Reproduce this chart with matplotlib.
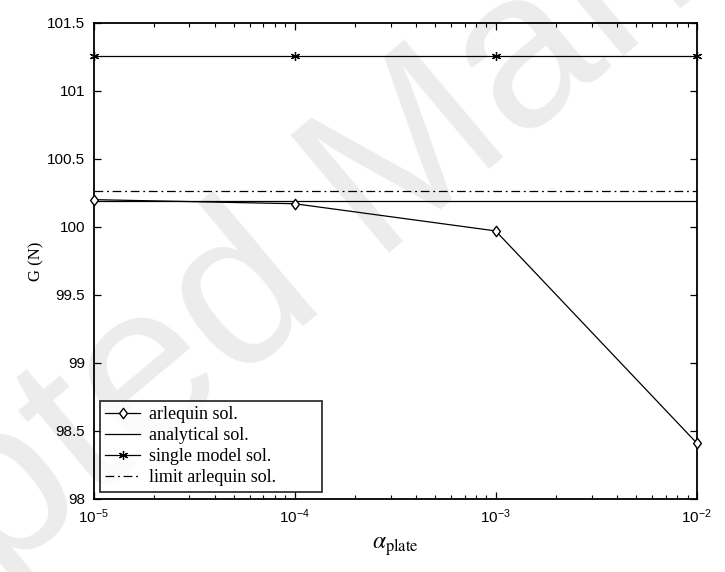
import numpy as np
import matplotlib
matplotlib.use("Agg")
import matplotlib.pyplot as plt
from matplotlib.path import Path
from matplotlib.ticker import LogLocator, FixedLocator, FuncFormatter, NullFormatter

plt.rcParams['mathtext.fontset'] = 'custom'
plt.rcParams['mathtext.rm'] = 'Liberation Sans'
plt.rcParams['mathtext.it'] = 'Liberation Sans:italic'

alpha_plate = [1e-5, 1e-4, 1e-3, 1e-2]
arlequin = [100.20, 100.17, 99.97, 98.41]
analytical = [100.19, 100.19, 100.19, 100.19]
single_model = [101.26, 101.26, 101.26, 101.26]
limit_arlequin = [100.26, 100.26, 100.26, 100.26]
yticks = [98, 98.5, 99, 99.5, 100, 100.5, 101, 101.5]

# matlab-like diamond (a bit taller than wide)
diamond = Path([(0, -1), (0.75, 0), (0, 1), (-0.75, 0), (0, -1)],
               [Path.MOVETO, Path.LINETO, Path.LINETO, Path.LINETO, Path.CLOSEPOLY])

fig = plt.figure(figsize=(7.25, 5.72), dpi=100)
# faint watermark, drawn behind the axes
fig.text(0.52, 0.67, "Accepted Manuscript", fontsize=160, color="#ececec",
         rotation=40, ha="center", va="center", family="Liberation Sans",
         zorder=-1)

ax = fig.add_axes([0.129, 0.128, 0.832, 0.832])
ax.patch.set_alpha(0)

ax.plot(alpha_plate, arlequin, color="black", lw=0.9, marker=diamond, ms=7.5,
        mfc="white", mec="black", mew=1.0, label="arlequin sol.", zorder=5,
        clip_on=False)
ax.plot(alpha_plate, analytical, color="black", lw=0.9, label="analytical sol.")
ax.plot(alpha_plate, single_model, color="black", lw=0.9, marker=(6, 2, 0), ms=6.5,
        mew=0.9, label="single model sol.", clip_on=False)
ax.plot(alpha_plate, limit_arlequin, color="black", lw=0.9, ls=(0, (7, 3, 1.5, 3)),
        label="limit arlequin sol.")

ax.set_xscale("log")
ax.set_xlim(1e-5, 1e-2)
ax.set_ylim(98, 101.5)
ax.yaxis.set_major_locator(FixedLocator(yticks))
ax.yaxis.set_major_formatter(FuncFormatter(lambda v, p: f"{v:g}"))
ax.xaxis.set_major_locator(LogLocator(base=10, numticks=10))
ax.xaxis.set_minor_locator(LogLocator(base=10, subs=np.arange(2, 10), numticks=20))
ax.xaxis.set_minor_formatter(NullFormatter())
ax.xaxis.set_major_formatter(FuncFormatter(lambda v, p: r"$\mathregular{10^{%d}}$" % round(np.log10(v))))

ax.tick_params(which="both", direction="in", top=True, right=True)
ax.tick_params(which="major", length=5, width=0.9, labelsize=11, pad=6)
ax.tick_params(which="minor", length=3, width=0.8)
for lab in ax.get_xticklabels() + ax.get_yticklabels():
    lab.set_family("Liberation Sans")
for s in ax.spines.values():
    s.set_linewidth(1.3)

ax.set_ylabel("G (N)", family="Liberation Serif", fontsize=12, labelpad=2)
ax.set_xlabel(r"$\alpha_{\rm plate}$", math_fontfamily="stix", fontsize=17, labelpad=6)

leg = ax.legend(loc="lower left", bbox_to_anchor=(0.01, 0.015, 0.368, 0.2), mode="expand",
                prop={"family": "Liberation Serif", "size": 13},
                frameon=True, fancybox=False, edgecolor="black", borderpad=0.3,
                labelspacing=0.22, handlelength=1.95, handletextpad=0.5,
                borderaxespad=0.0)
leg.get_frame().set_linewidth(1.3)

fig.savefig("out.png", dpi=100)
